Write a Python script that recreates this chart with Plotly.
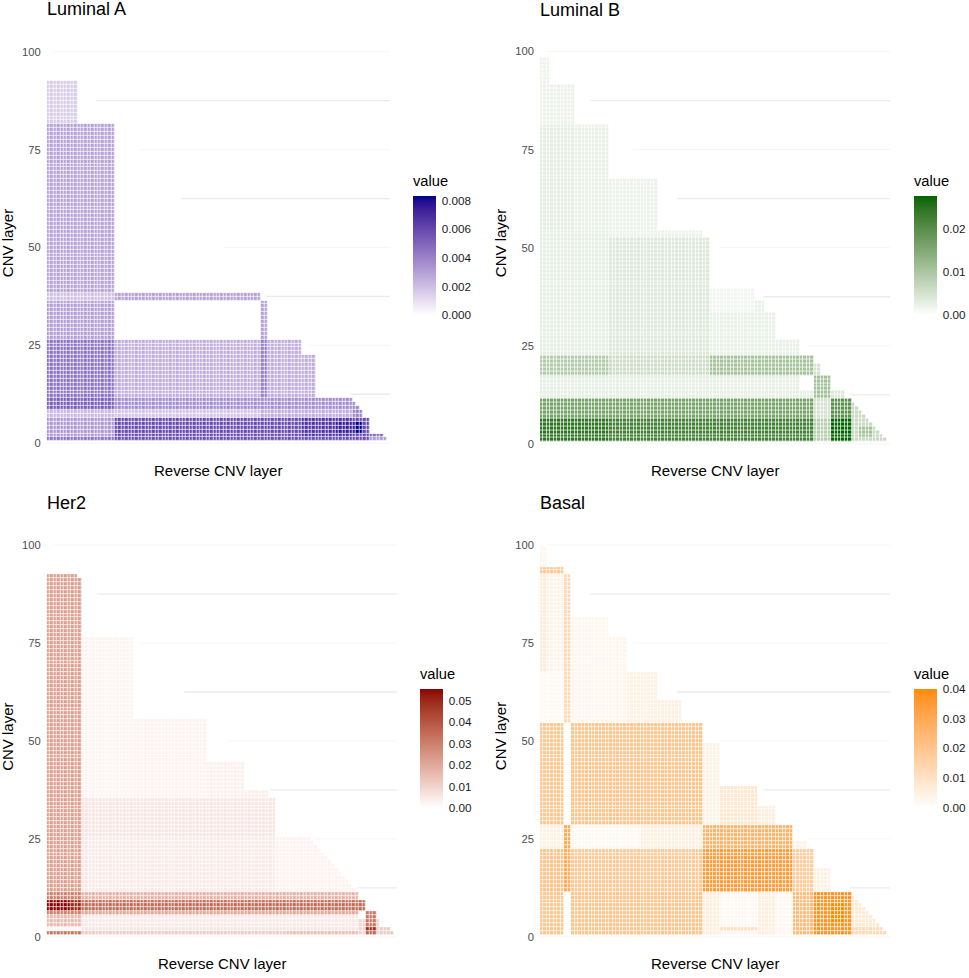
import numpy as np
import plotly.graph_objects as go

N_LAYERS = 100
Y_TICKS = [0, 25, 50, 75, 100]

# blocks: (reverse layer from, to, CNV layer from, to, value)
# painted in order on a zero-filled triangle (reverse + CNV <= 101)
LUMINAL_A = [
    (1, 9, 82, 92, 0.0016),
    (1, 20, 39, 81, 0.0030),
    (1, 20, 37, 38, 0.0020),
    (21, 63, 37, 38, 0.0030),
    (1, 20, 27, 36, 0.0031),
    (64, 65, 27, 36, 0.0030),
    (1, 20, 12, 26, 0.0046),
    (21, 75, 12, 26, 0.0026),
    (76, 79, 12, 22, 0.0026),
    (64, 65, 12, 26, 0.0042),
    (1, 20, 9, 11, 0.0053),
    (21, 92, 9, 11, 0.0037),
    (1, 20, 7, 8, 0.0022),
    (21, 63, 7, 8, 0.0018),
    (64, 90, 7, 8, 0.0026),
    (91, 93, 7, 8, 0.0040),
    (1, 20, 2, 6, 0.0033),
    (21, 95, 2, 6, 0.0060),
    (76, 90, 2, 6, 0.0068),
    (86, 93, 3, 5, 0.0075),
    (92, 93, 3, 5, 0.00835),
    (96, 99, 2, 2, 0.0050),
    (1, 20, 1, 1, 0.0045),
    (21, 95, 1, 1, 0.0058),
    (96, 100, 1, 1, 0.0032),
]

LUMINAL_B = [
    (1, 3, 92, 98, 0.0020),
    (1, 10, 82, 91, 0.0022),
    (1, 10, 55, 81, 0.0032),
    (11, 20, 55, 81, 0.0026),
    (21, 34, 55, 67, 0.0022),
    (21, 47, 53, 54, 0.0022),
    (21, 49, 23, 52, 0.0040),
    (1, 20, 23, 54, 0.0030),
    (50, 62, 34, 39, 0.0015),
    (63, 65, 34, 36, 0.0025),
    (50, 68, 23, 33, 0.0025),
    (69, 75, 23, 26, 0.0025),
    (1, 20, 18, 22, 0.0090),
    (21, 49, 18, 22, 0.0060),
    (50, 79, 18, 22, 0.0108),
    (80, 81, 18, 20, 0.0050),
    (1, 49, 12, 17, 0.0030),
    (50, 75, 12, 17, 0.0028),
    (76, 79, 12, 13, 0.0030),
    (80, 84, 12, 17, 0.0110),
    (85, 88, 12, 13, 0.0040),
    (1, 79, 7, 11, 0.0165),
    (80, 84, 7, 11, 0.0050),
    (85, 90, 7, 11, 0.0200),
    (1, 20, 1, 6, 0.0248),
    (21, 79, 1, 6, 0.0228),
    (80, 84, 1, 6, 0.0085),
    (85, 90, 1, 6, 0.0278),
    (91, 100, 1, 10, 0.0065),
    (93, 96, 2, 4, 0.0110),
]

HER2 = [
    (1, 10, 12, 92, 0.0225),
    (11, 25, 36, 76, 0.0025),
    (26, 46, 36, 55, 0.0030),
    (47, 57, 36, 44, 0.0035),
    (58, 64, 36, 37, 0.0040),
    (11, 66, 26, 35, 0.0060),
    (11, 66, 12, 25, 0.0048),
    (67, 92, 12, 25, 0.0030),
    (1, 10, 10, 11, 0.0300),
    (11, 90, 10, 11, 0.0180),
    (1, 10, 7, 9, 0.0500),
    (1, 7, 7, 9, 0.0554),
    (11, 92, 7, 9, 0.0350),
    (1, 10, 6, 6, 0.0300),
    (11, 92, 6, 6, 0.0200),
    (1, 10, 3, 5, 0.0160),
    (11, 90, 3, 5, 0.0050),
    (1, 10, 2, 2, 0.0020),
    (11, 90, 2, 2, 0.0060),
    (1, 10, 1, 1, 0.0320),
    (11, 69, 1, 1, 0.0120),
    (70, 100, 1, 1, 0.0150),
    (91, 92, 1, 4, 0.0100),
    (91, 92, 5, 6, 0.0),
    (93, 95, 3, 6, 0.0320),
    (93, 95, 2, 2, 0.0480),
    (93, 95, 1, 1, 0.0360),
    (96, 96, 1, 4, 0.0100),
    (97, 99, 1, 2, 0.0120),
]

BASAL = [
    (1, 2, 95, 99, 0.0030),
    (1, 7, 93, 94, 0.0190),
    (1, 7, 68, 92, 0.0040),
    (1, 2, 68, 92, 0.0070),
    (1, 7, 55, 67, 0.0020),
    (8, 9, 55, 92, 0.0130),
    (10, 20, 55, 81, 0.0030),
    (21, 25, 55, 76, 0.0035),
    (26, 34, 55, 67, 0.0050),
    (35, 41, 55, 60, 0.0055),
    (1, 7, 29, 54, 0.0200),
    (10, 47, 29, 54, 0.0205),
    (48, 52, 29, 49, 0.0045),
    (53, 63, 29, 38, 0.0085),
    (64, 68, 29, 33, 0.0060),
    (1, 7, 23, 28, 0.0050),
    (10, 29, 23, 28, 0.0025),
    (30, 47, 23, 28, 0.0055),
    (48, 73, 23, 28, 0.0265),
    (8, 9, 12, 28, 0.0290),
    (1, 7, 12, 22, 0.0215),
    (10, 47, 12, 22, 0.0190),
    (48, 73, 12, 22, 0.0345),
    (74, 77, 23, 24, 0.0040),
    (74, 79, 12, 22, 0.0180),
    (80, 84, 12, 17, 0.0050),
    (1, 7, 1, 11, 0.0200),
    (10, 47, 1, 11, 0.0205),
    (48, 52, 1, 11, 0.0060),
    (53, 63, 1, 11, 0.0022),
    (53, 63, 2, 2, 0.0110),
    (64, 68, 1, 11, 0.0060),
    (69, 73, 1, 11, 0.0025),
    (74, 79, 1, 11, 0.0240),
    (80, 90, 1, 11, 0.0375),
    (85, 88, 4, 8, 0.0400),
    (91, 100, 1, 10, 0.0075),
    (91, 100, 1, 2, 0.0130),
]

PANELS = [
    dict(name="Luminal A", blocks=LUMINAL_A, high="#00008B",
         ticks=[0, 0.002, 0.004, 0.006, 0.008], fmt=".3f",
         px=(46.7, 390.0), y0=445.0, ppu=3.93, cbx=413.3, cbtop=196.7),
    dict(name="Luminal B", blocks=LUMINAL_B, high="#006400",
         ticks=[0, 0.01, 0.02], fmt=".2f",
         px=(540.0, 890.0), y0=445.7, ppu=3.94, cbx=914.0, cbtop=196.7),
    dict(name="Her2", blocks=HER2, high="#8B0000",
         ticks=[0, 0.01, 0.02, 0.03, 0.04, 0.05], fmt=".2f",
         px=(46.7, 397.3), y0=940.7, ppu=3.934, cbx=420.0, cbtop=691.7),
    dict(name="Basal", blocks=BASAL, high="#FF8C00",
         ticks=[0, 0.01, 0.02, 0.03, 0.04], fmt=".2f",
         px=(540.0, 890.0), y0=940.7, ppu=3.934, cbx=914.0, cbtop=691.7),
]

W, H = 969, 978
FONT = "Liberation Sans, Arial, Helvetica, sans-serif"


# --- Lab interpolation, like ggplot's scale_fill_gradient ---
def _hex_to_lab(h):
    rgb = np.array([int(h[i:i + 2], 16) for i in (1, 3, 5)]) / 255.0
    lin = np.where(rgb <= 0.04045, rgb / 12.92, ((rgb + 0.055) / 1.055) ** 2.4)
    m = np.array([[0.4124564, 0.3575761, 0.1804375],
                  [0.2126729, 0.7151522, 0.0721750],
                  [0.0193339, 0.1191920, 0.9503041]])
    xyz = m @ lin / np.array([0.95047, 1.0, 1.08883])
    d = 6 / 29
    f = np.where(xyz > d ** 3, np.cbrt(xyz), xyz / (3 * d * d) + 4 / 29)
    return np.array([116 * f[1] - 16, 500 * (f[0] - f[1]), 200 * (f[1] - f[2])])


def _lab_to_hex(lab):
    L, a, b = lab
    fy = (L + 16) / 116
    f = np.array([fy + a / 500, fy, fy - b / 200])
    d = 6 / 29
    xyz = np.where(f > d, f ** 3, 3 * d * d * (f - 4 / 29)) * np.array([0.95047, 1.0, 1.08883])
    mi = np.array([[3.2404542, -1.5371385, -0.4985314],
                   [-0.9692660, 1.8760108, 0.0415560],
                   [0.0556434, -0.2040259, 1.0572252]])
    lin = np.clip(mi @ xyz, 0, 1)
    rgb = np.where(lin <= 0.0031308, 12.92 * lin, 1.055 * lin ** (1 / 2.4) - 0.055)
    r, g, bb = (np.clip(rgb, 0, 1) * 255).round().astype(int)
    return f"#{r:02x}{g:02x}{bb:02x}"


def lab_scale(high, n=21):
    lo, hi = _hex_to_lab("#FFFFFF"), _hex_to_lab(high)
    return [[t, _lab_to_hex(lo + (hi - lo) * t)] for t in np.linspace(0, 1, n)]


def build_grid(blocks):
    z = np.zeros((N_LAYERS, N_LAYERS))
    for x0, x1, y0, y1, v in blocks:
        z[y0 - 1:y1, x0 - 1:x1] = v
    idx = np.arange(1, N_LAYERS + 1)
    z[idx[:, None] + idx[None, :] > N_LAYERS + 1] = np.nan
    return [[None if np.isnan(c) else float(c) for c in row] for row in z]


fig = go.Figure()
layers = list(range(1, N_LAYERS + 1))
x_range = [0.5, 101.5]
y_range = [-0.5, 101.5]
shapes, annotations = [], []

for i, p in enumerate(PANELS):
    k = "" if i == 0 else str(i + 1)
    z = build_grid(p["blocks"])
    zmax = max(v for *_, v in p["blocks"])

    y_bot_px = p["y0"] - y_range[0] * p["ppu"]
    y_top_px = p["y0"] - y_range[1] * p["ppu"]

    fig.add_trace(go.Heatmap(
        x=layers, y=layers, z=z,
        xaxis="x" + k, yaxis="y" + k,
        colorscale=lab_scale(p["high"]), zmin=0, zmax=zmax,
        xgap=0.7, ygap=0.7, hoverinfo="skip",
        colorbar=dict(
            x=p["cbx"] / W, xanchor="left", xpad=0,
            y=1 - p["cbtop"] / H, yanchor="top", ypad=0,
            lenmode="pixels", len=119, thickness=23.3,
            outlinewidth=0, tickvals=p["ticks"], tickformat=p["fmt"],
            ticks="outside", ticklen=4, tickcolor="white", tickwidth=1,
            tickfont=dict(family=FONT, size=11.7, color="#1a1a1a"),
        ),
    ))

    fig.layout["xaxis" + k] = dict(
        domain=[p["px"][0] / W, p["px"][1] / W], range=x_range,
        showticklabels=False, showgrid=False, zeroline=False,
        anchor="y" + k, fixedrange=True,
    )
    fig.layout["yaxis" + k] = dict(
        domain=[1 - y_bot_px / H, 1 - y_top_px / H], range=y_range,
        tickvals=Y_TICKS, showgrid=False, zeroline=False,
        ticks="", ticklabelstandoff=5,
        tickfont=dict(family=FONT, size=11.2, color="#4d4d4d"),
        anchor="x" + k, fixedrange=True,
    )

    xr, yr = "x" + k, "y" + k
    for gy in [12.5, 37.5, 62.5, 87.5]:
        shapes.append(dict(type="line", xref=xr, yref=yr, x0=x_range[0], x1=x_range[1],
                           y0=gy, y1=gy, layer="below",
                           line=dict(color="#ebebeb", width=1.3)))
    for gy in Y_TICKS:
        shapes.append(dict(type="line", xref=xr, yref=yr, x0=x_range[0], x1=x_range[1],
                           y0=gy, y1=gy, layer="below",
                           line=dict(color="#f6f6f6", width=1)))
    # white backing under the tiles so the grid only shows outside the triangle
    shapes.append(dict(type="path", xref=xr, yref=yr, layer="below",
                       path="M 0.5 0.5 L 102 0.5 L 0.5 102 Z",
                       fillcolor="white", line=dict(width=0)))

    left = p["px"][0]
    cx = (p["px"][0] + p["px"][1]) / 2
    annotations += [
        dict(text=p["name"], x=(left - 2) / W, y=1 - (p["y0"] - 436) / H,
             xanchor="left", yanchor="middle",
             font=dict(family=FONT, size=18, color="black")),
        dict(text="CNV layer", x=(left - 39.5) / W, y=1 - (p["y0"] - 201) / H,
             textangle=-90, xanchor="center", yanchor="middle",
             font=dict(family=FONT, size=15, color="black")),
        dict(text="Reverse CNV layer", x=cx / W, y=1 - (p["y0"] + 27) / H,
             xanchor="center", yanchor="middle",
             font=dict(family=FONT, size=15, color="black")),
        dict(text="value", x=(p["cbx"] - 2) / W, y=1 - (p["cbtop"] - 15) / H,
             xanchor="left", yanchor="middle",
             font=dict(family=FONT, size=14.7, color="black")),
    ]

for a in annotations:
    a.update(xref="paper", yref="paper", showarrow=False)

fig.update_layout(
    width=W, height=H,
    margin=dict(l=0, r=0, t=0, b=0),
    paper_bgcolor="white", plot_bgcolor="white",
    shapes=shapes, annotations=annotations,
    font=dict(family=FONT),
)

# drop the browser's default page margin so the figure sits at the window corner
fig.write_html("out.html", config={"displayModeBar": False},
               post_script="document.body.style.margin='0';")
